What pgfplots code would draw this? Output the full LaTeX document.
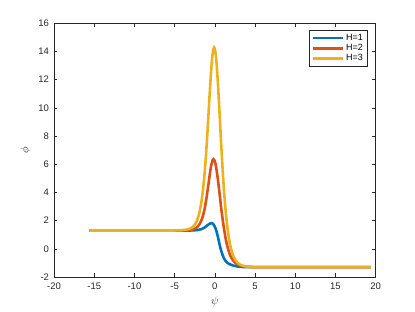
\documentclass[border=0pt]{standalone}
\usepackage{pgfplots}
\pgfplotsset{compat=1.18}
\usepackage{fontspec}
\setmainfont{Liberation Sans}
\definecolor{mblue}{rgb}{0,0.447,0.741}
\definecolor{morange}{rgb}{0.85,0.325,0.098}
\definecolor{myellow}{rgb}{0.929,0.694,0.125}
\definecolor{axgray}{rgb}{0.15,0.15,0.15}
\begin{document}
\begin{tikzpicture}
\begin{axis}[
  scale only axis,
  width=321.7pt, height=253.7pt,
  xmin=-20, xmax=20, ymin=-2, ymax=16,
  xtick={-20,-15,...,20}, ytick={-2,0,...,16},
  tick align=inside,
  tick pos=both,
  major tick length=3.5pt,
  axis line style={axgray, line width=0.5pt},
  every tick/.style={axgray, line width=0.5pt},
  tick label style={font=\fontsize{9.5}{11}\selectfont, text=axgray},
  xticklabel style={yshift=-2.5pt},
  yticklabel style={xshift=-1.5pt},
  /pgf/number format/assume math mode=true,
  xlabel={$\psi$}, ylabel={$\phi$},
  label style={font=\fontsize{10.5}{12}\selectfont, text=axgray},
  xlabel style={yshift=0pt},
  ylabel style={yshift=1pt},
  legend style={at={(0.973,0.974)}, anchor=north east, draw=axgray, line width=0.5pt,
    font=\fontsize{9}{10}\selectfont, row sep=-1.5pt, inner xsep=2pt, inner ysep=2pt},
  legend cell align=left,
  legend image code/.code={\draw[#1] (0pt,0pt) -- (30pt,0pt);},
  every axis plot/.append style={line width=2.6pt, smooth, tension=0.5},
]
\addplot[mblue] coordinates {
(-15.6,1.30) (-5,1.30) (-3.2,1.30) (-2.6,1.31) (-2.2,1.33) (-1.9,1.36) (-1.6,1.41)
(-1.4,1.47) (-1.2,1.54) (-1.0,1.63) (-0.85,1.70) (-0.7,1.76) (-0.6,1.79) (-0.5,1.81)
(-0.4,1.82) (-0.3,1.80) (-0.2,1.75) (-0.1,1.67) (0,1.56) (0.1,1.42) (0.2,1.25)
(0.3,1.04) (0.4,0.80) (0.5,0.54) (0.6,0.28) (0.7,0.05) (0.8,-0.15) (0.9,-0.34)
(1.0,-0.50) (1.1,-0.63) (1.2,-0.74) (1.3,-0.83) (1.45,-0.94) (1.6,-1.01) (1.8,-1.08)
(2.0,-1.13) (2.3,-1.19) (2.7,-1.24) (3.2,-1.28) (4,-1.30) (6,-1.30) (19.4,-1.30)
};
\addlegendentry{H=1}
\addplot[morange] coordinates {
(-15.6,1.30) (-6,1.30) (-4.77,1.30) (-3.85,1.31) (-3.39,1.32) (-2.93,1.35) (-2.56,1.41)
(-2.38,1.46) (-2.19,1.54) (-2.01,1.66) (-1.83,1.82) (-1.64,2.06) (-1.46,2.39)
(-1.27,2.84) (-1.09,3.43) (-1.00,3.76) (-0.91,4.13) (-0.81,4.51) (-0.72,4.90)
(-0.63,5.28) (-0.54,5.63) (-0.45,5.93) (-0.35,6.16) (-0.26,6.31) (-0.17,6.36)
(-0.05,6.28) (0.07,6.06) (0.18,5.71) (0.30,5.26) (0.42,4.72) (0.54,4.15) (0.66,3.56)
(0.77,2.98) (0.89,2.43) (1.01,1.92) (1.13,1.45) (1.25,1.04) (1.36,0.67) (1.48,0.35)
(1.60,0.09) (1.72,-0.15) (1.95,-0.51) (2.19,-0.76) (2.43,-0.93) (2.66,-1.05)
(2.90,-1.13) (3.37,-1.22) (3.96,-1.27) (4.55,-1.29) (5.73,-1.30) (19.4,-1.30)
};
\addlegendentry{H=2}
\addplot[myellow] coordinates {
(-15.6,1.30) (-6,1.30) (-5.09,1.30) (-4.09,1.32) (-3.59,1.35) (-3.09,1.43) (-2.89,1.49)
(-2.69,1.58) (-2.49,1.72) (-2.29,1.92) (-2.09,2.22) (-1.89,2.64) (-1.69,3.25)
(-1.59,3.65) (-1.49,4.10) (-1.39,4.64) (-1.29,5.26) (-1.19,5.96) (-1.09,6.75)
(-0.99,7.62) (-0.89,8.56) (-0.79,9.54) (-0.69,10.54) (-0.59,11.50) (-0.49,12.41)
(-0.39,13.18) (-0.29,13.77) (-0.19,14.15) (-0.09,14.28) (0.02,14.12) (0.13,13.67)
(0.24,12.96) (0.35,12.04) (0.46,10.95) (0.57,9.79) (0.68,8.59) (0.79,7.41)
(0.90,6.29) (1.01,5.24) (1.12,4.29) (1.23,3.45) (1.34,2.70) (1.45,2.07) (1.56,1.52)
(1.67,1.04) (1.89,0.31) (2.11,-0.20) (2.33,-0.55) (2.55,-0.80) (2.77,-0.96)
(2.99,-1.07) (3.21,-1.15) (3.76,-1.24) (4.31,-1.28) (5.41,-1.30) (19.4,-1.30)
};
\addlegendentry{H=3}
\end{axis}
\path ([shift={(-54pt,-35pt)}]current axis.south west) rectangle ([shift={(39.3pt,23.3pt)}]current axis.north east);
\end{tikzpicture}
\end{document}
